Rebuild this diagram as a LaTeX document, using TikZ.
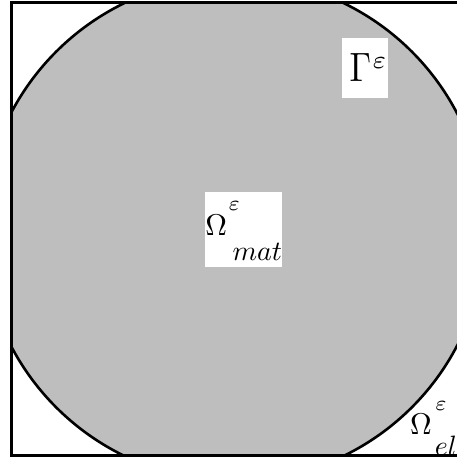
\documentclass[tikz,border=0pt]{standalone}
\definecolor{matgray}{RGB}{190,190,190}
\newcommand{\bigOm}{\scalebox{3}{$\Omega$}}
\newcommand{\supeps}[1]{\rlap{\raisebox{#1}{\scalebox{3}{$\scriptstyle\varepsilon$}}}}
\begin{document}
\begin{tikzpicture}[x=1pt,y=-1pt,
  edge/.style={line width=2.6pt, draw=black},
  lbl/.style={inner sep=0pt},
  whitebox/.style={fill=white, inner sep=0pt}]
\useasboundingbox (0,0) rectangle (457,459);
\clip (0,0) rectangle (457,459);
\coordinate (C) at (234,229.5);
\coordinate (SW) at (11.2,455.3);
\coordinate (NE) at (464.2,2.2);
\begin{scope}
  \clip (SW) rectangle (NE);
  \fill[matgray] (C) circle[radius=251.5pt];
  \draw[edge] (C) circle[radius=251.5pt];
\end{scope}
\draw[edge] (SW) rectangle (NE);
% labels
\node[whitebox, minimum width=77pt, minimum height=75pt] (matbox) at (243.5,229.5) {};
\node[lbl, anchor=base west] (mat) at (205.2,235)
  {\bigOm\hspace{1.5pt}\supeps{24.5pt}\hspace{4pt}\raisebox{-25pt}{\scalebox{2.8}{$mat$}}};
\node[whitebox, minimum width=46pt, minimum height=60pt] (gbox) at (365,67.5) {};
\node[lbl, anchor=base west] (gamma) at (349.3,81.7)
  {\scalebox{3.45}[4.1]{$\Gamma$}\hspace{1.5pt}\raisebox{13.4pt}{\scalebox{3.6}{$\scriptstyle\varepsilon$}}};
\node[lbl, anchor=base west] (el) at (410,434.3)
  {\bigOm\hspace{3.5pt}\supeps{24pt}\hspace{-0.5pt}\raisebox{-21.5pt}{\scalebox{2.8}{$el$}}};
\end{tikzpicture}
\end{document}
